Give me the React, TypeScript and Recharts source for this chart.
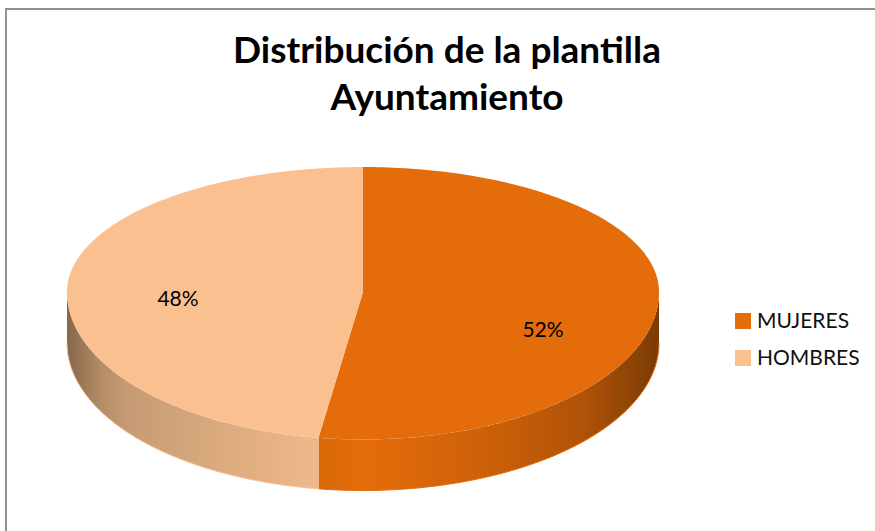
import React from "react";
import { PieChart, Pie, Cell, Legend } from "recharts";

const categories = ["MUJERES", "HOMBRES"];
const values = [52.4, 47.6];
const titleLines = ["Distribución de la plantilla", "Ayuntamiento"];

const colors = ["#E46C0A", "#FAC090"];
const data = categories.map((name, i) => ({ name, value: values[i] }));

const FONT = "Lato, 'Open Sans', sans-serif";
const TOP_SQUASH = 125 / 296;
const BOTTOM_SQUASH = 147.5 / 296;
const DEPTH = 51;
const LABEL_SHIFT_X = [-3, -2];
const LABEL_SHIFT_Y = [30, 11];

const pt = (cx: number, cy: number, r: number, deg: number, dy = 0) => {
  const a = (deg * Math.PI) / 180;
  const s = Math.sin(a);
  return [cx + r * Math.cos(a), cy - r * s * (s > 0 ? TOP_SQUASH : BOTTOM_SQUASH) + dy];
};

const arcPts = (cx: number, cy: number, r: number, from: number, to: number, dy = 0) => {
  const n = Math.max(2, Math.ceil(Math.abs(to - from)));
  const out: number[][] = [];
  for (let i = 0; i <= n; i++) out.push(pt(cx, cy, r, from + ((to - from) * i) / n, dy));
  return out;
};

const toPath = (pts: number[][]) =>
  pts.map((p, i) => `${i ? "L" : "M"}${p[0].toFixed(2)} ${p[1].toFixed(2)}`).join(" ");

const EllipticSlice = (props: any) => {
  const { cx, cy, outerRadius: r, startAngle, endAngle, fill, index } = props;
  const lo = Math.min(startAngle, endAngle);
  const hi = Math.max(startAngle, endAngle);
  // visible rim: the part of the slice lying on the lower half (angles where sin < 0)
  const rims: number[][] = [];
  for (let k = -2; k <= 1; k++) {
    const a = Math.max(lo, 180 + k * 360);
    const b = Math.min(hi, 360 + k * 360);
    if (b > a) rims.push([a, b]);
  }
  const top = arcPts(cx, cy, r, startAngle, endAngle);
  return (
    <g>
      {rims.map(([a, b], i) => {
        const upper = arcPts(cx, cy, r, a, b);
        const lower = arcPts(cx, cy, r, b, a, DEPTH);
        return (
          <g key={i}>
            <path d={`${toPath(upper)} L${toPath(lower).slice(1)} Z`} fill={`url(#wall${index})`} />
            <path d={toPath(lower)} fill="none" stroke={fill} strokeWidth={1} />
          </g>
        );
      })}
      <path d={`M${cx} ${cy} L${toPath(top).slice(1)} Z`} fill={fill} />
    </g>
  );
};

const renderLabel = (props: any) => {
  const { cx, cy, outerRadius: r, midAngle, percent, index } = props;
  const p = pt(cx, cy, r * 0.62, midAngle);
  return (
    <text
      x={p[0] + LABEL_SHIFT_X[index]}
      y={p[1] + LABEL_SHIFT_Y[index]}
      textAnchor="middle"
      dominantBaseline="central"
      fontFamily={FONT}
      fontSize={21}
      fill="#000"
    >
      {`${Math.round(percent * 100)}%`}
    </text>
  );
};

const renderLegend = (props: any) => (
  <div style={{ fontFamily: FONT, fontSize: 21, color: "#111" }}>
    {(props.payload || []).map((item: any, i: number) => (
      <div key={i} style={{ display: "flex", alignItems: "center", height: 37 }}>
        <span style={{ width: 16, height: 16, background: colors[i], marginRight: 6, display: "inline-block" }} />
        <span style={{ position: "relative", top: -2 }}>{item.value}</span>
      </div>
    ))}
  </div>
);

export default function App() {
  return (
    <div style={{ position: "absolute", left: 0, top: 0, width: 875, height: 531, overflow: "hidden", background: "#fff" }}>
      <div
        style={{
          position: "absolute",
          left: 5,
          top: 8,
          width: 900,
          height: 600,
          borderLeft: "2px solid #909090",
          borderTop: "2px solid #909090",
        }}
      />
      <div style={{ position: "absolute", left: 0, top: 0 }}>
        <PieChart width={875} height={531} margin={{ top: 0, right: 0, bottom: 0, left: 0 }}>
          <defs>
            <linearGradient id="wall0" gradientUnits="userSpaceOnUse" x1="319" y1="0" x2="659" y2="0">
              <stop offset="0" stopColor="#D86908" />
              <stop offset="0.14" stopColor="#E46C0A" />
              <stop offset="0.5" stopColor="#CC6009" />
              <stop offset="0.78" stopColor="#B05207" />
              <stop offset="1" stopColor="#7A3C04" />
            </linearGradient>
            <linearGradient id="wall1" gradientUnits="userSpaceOnUse" x1="67" y1="0" x2="319" y2="0">
              <stop offset="0" stopColor="#85674B" />
              <stop offset="0.14" stopColor="#B58E69" />
              <stop offset="0.25" stopColor="#C79C74" />
              <stop offset="0.6" stopColor="#DBAA7E" />
              <stop offset="1" stopColor="#EFB88B" />
            </linearGradient>
          </defs>
          <text x={447} y={48} textAnchor="middle" dominantBaseline="central" fontFamily={FONT} fontWeight={700} fontSize={37} fill="#000">
            {titleLines[0]}
          </text>
          <text x={447} y={95} textAnchor="middle" dominantBaseline="central" fontFamily={FONT} fontWeight={700} fontSize={37} fill="#000">
            {titleLines[1]}
          </text>
          <Pie
            data={data}
            dataKey="value"
            nameKey="name"
            cx={363}
            cy={292}
            innerRadius={0}
            outerRadius={296}
            startAngle={90}
            endAngle={-270}
            stroke="none"
            isAnimationActive={false}
            shape={EllipticSlice}
            label={renderLabel}
            labelLine={false}
          >
            {data.map((d, i) => (
              <Cell key={d.name} fill={colors[i]} />
            ))}
          </Pie>
          <Legend
            content={renderLegend}
            itemSorter={null}
            layout="vertical"
            wrapperStyle={{ position: "absolute", left: 735, top: 302.5, width: 135, height: 80 }}
          />
        </PieChart>
      </div>
    </div>
  );
}
